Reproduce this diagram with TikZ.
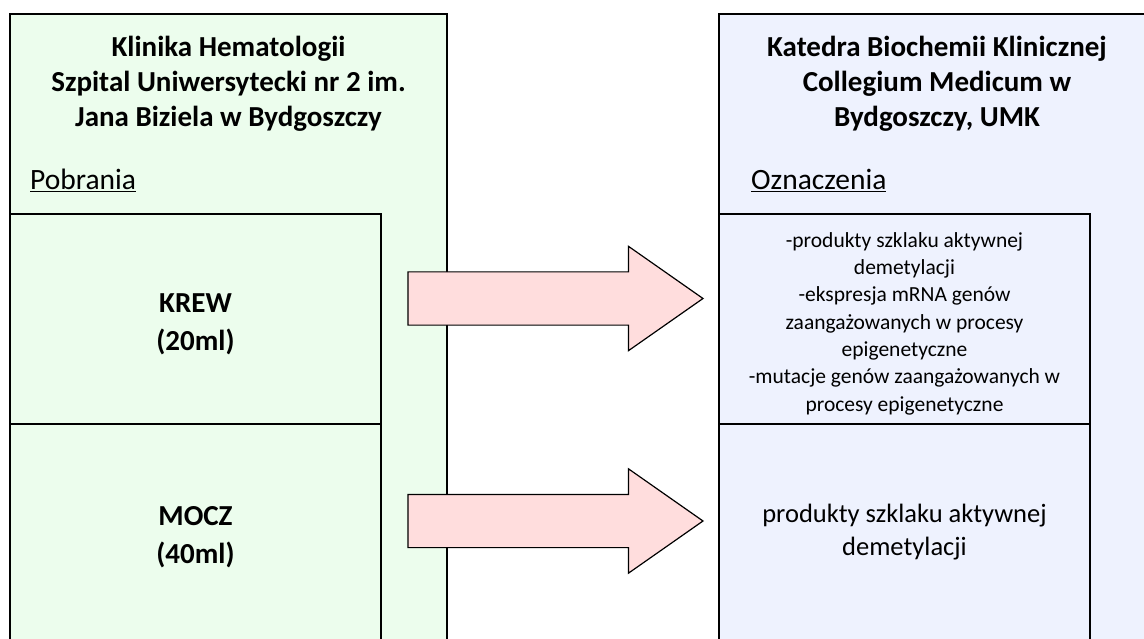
\documentclass[tikz,border=0pt]{standalone}
\usepackage{fontspec}
\setmainfont{Carlito}
\usetikzlibrary{shapes.arrows}
\definecolor{klinika}{RGB}{236,253,237}
\definecolor{katedra}{RGB}{238,242,254}
\definecolor{strzalka}{RGB}{255,221,221}
\tikzset{
    pole/.style={draw, line width=1.6pt, inner sep=0pt, outer sep=0pt, anchor=north west},
    tytul/.style={align=center, font=\bfseries\fontsize{29}{35}\selectfont},
    probka/.style={align=center, font=\bfseries\fontsize{29}{38}\selectfont},
    naglowek/.style={anchor=base west, inner sep=0pt, font=\fontsize{29.5}{35}\selectfont},
    blokstrzalka/.style={single arrow, draw, line width=1.2pt, fill=strzalka, inner sep=0pt,
        text height=26pt, text depth=26pt, text width=0pt,
        minimum height=295pt, minimum width=103pt, single arrow head extend=25.5pt,
        single arrow tip angle=70}
}
\begin{document}
\begin{tikzpicture}[x=1pt, y=-1pt]
    \useasboundingbox (0, 0) rectangle (1144, 639);
    % duze pola
    \node[pole, fill=klinika, minimum width=437pt, minimum height=660pt] (klinika) at (10, 14) {};
    \node[pole, fill=katedra, minimum width=450pt, minimum height=660pt] (katedra) at (719, 14) {};
    \node[tytul] (klinikaNazwa) at (228.5, 84) {Klinika Hematologii\\Szpital Uniwersytecki nr 2 im.\\Jana Biziela w Bydgoszczy};
    \node[tytul] (katedraNazwa) at (937, 84) {Katedra Biochemii Klinicznej\\Collegium Medicum w\\Bydgoszczy, UMK};
    \node[naglowek] (pobrania) at (30, 190) {\underline{Pobrania}};
    \node[naglowek] (oznaczenia) at (751, 190) {\underline{Oznaczenia}};
    % probki
    \node[pole, fill=klinika, minimum width=371pt, minimum height=210pt] (krew) at (10, 214) {};
    \node[pole, fill=klinika, minimum width=371pt, minimum height=240pt] (mocz) at (10, 424) {};
    \node[probka] (krewTekst) at (195.5, 324) {KREW\\(20ml)};
    \node[probka] (moczTekst) at (195.5, 537) {MOCZ\\(40ml)};
    % oznaczenia
    \node[pole, fill=katedra, minimum width=371pt, minimum height=210pt] (oznKrew) at (719, 214) {};
    \node[pole, fill=katedra, minimum width=371pt, minimum height=240pt] (oznMocz) at (719, 424) {};
    \node[align=center, font=\fontsize{21.5}{27.3}\selectfont] (oznKrewTekst) at (904.5, 323.5)
        {-produkty szklaku aktywnej\\demetylacji\\-ekspresja mRNA genów\\zaangażowanych w procesy\\epigenetyczne\\-mutacje genów zaangażowanych w\\procesy epigenetyczne};
    \node[align=center, font=\fontsize{26.5}{33}\selectfont] (oznMoczTekst) at (904.5, 532)
        {produkty szklaku aktywnej\\demetylacji};
    % strzalki
    \node[blokstrzalka] (strzalkaKrew) at (536.5, 298.5) {};
    \node[blokstrzalka] (strzalkaMocz) at (536.5, 521) {};
\end{tikzpicture}
\end{document}
